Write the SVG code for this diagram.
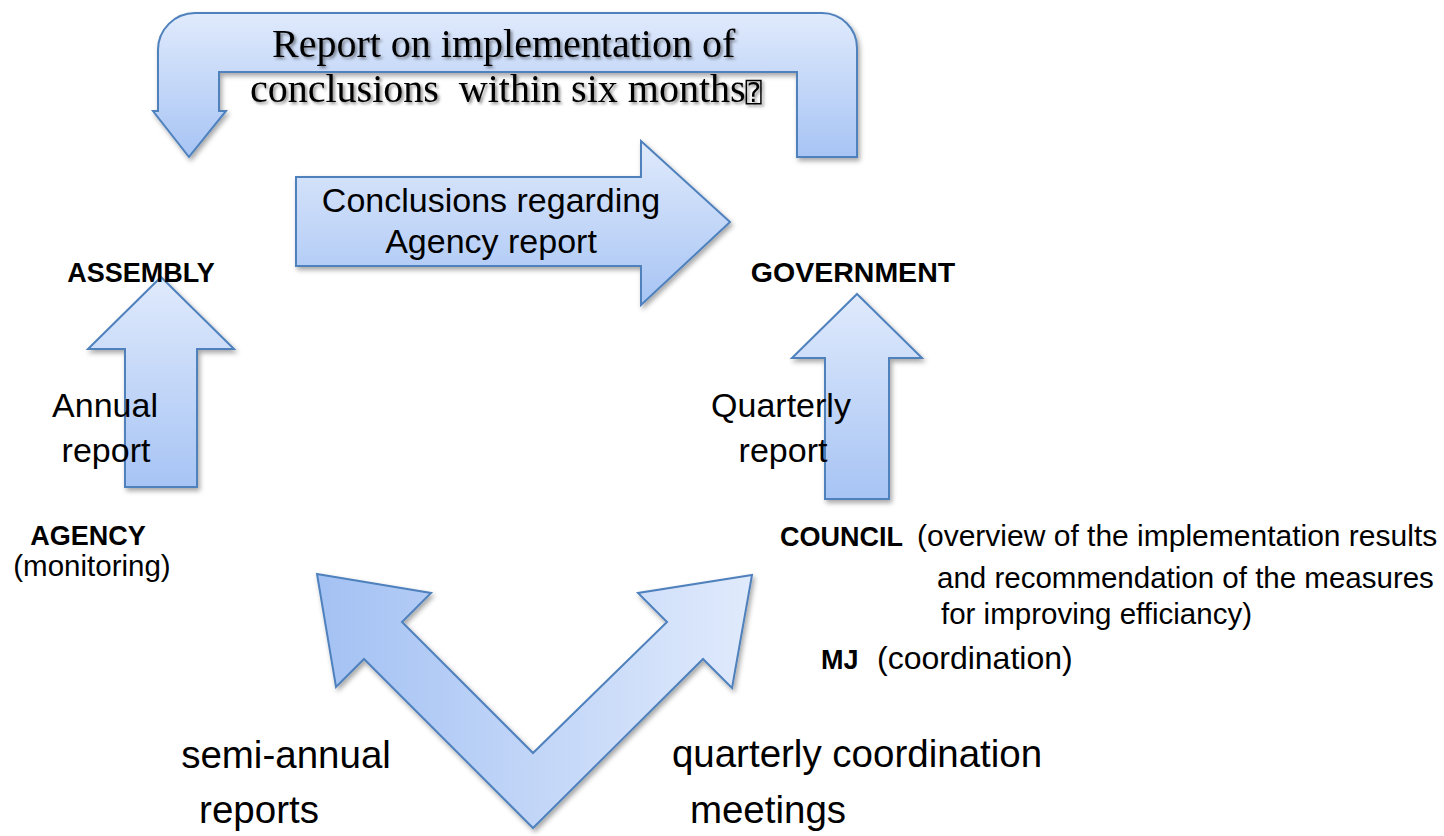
<svg xmlns="http://www.w3.org/2000/svg" width="1444" height="836" viewBox="0 0 1444 836">
<defs>
  <linearGradient id="gv" x1="0" y1="0" x2="0" y2="1">
    <stop offset="0" stop-color="#e0eafc"/>
    <stop offset="1" stop-color="#a7c4f4"/>
  </linearGradient>
  <linearGradient id="gd" x1="0" y1="0" x2="1" y2="0">
    <stop offset="0" stop-color="#a3c1f3"/>
    <stop offset="1" stop-color="#e0eafc"/>
  </linearGradient>
  <filter id="sh" x="-10%" y="-10%" width="125%" height="125%">
    <feDropShadow dx="2" dy="3" stdDeviation="2.5" flood-color="#000" flood-opacity="0.35"/>
  </filter>
  <filter id="tsh" x="-5%" y="-20%" width="110%" height="150%">
    <feDropShadow dx="2" dy="2" stdDeviation="1.5" flood-color="#000" flood-opacity="0.45"/>
  </filter>
</defs>
<style>
  .arrow{stroke:#4f81bd;stroke-width:2;stroke-linejoin:miter;filter:url(#sh)}
  .v{fill:url(#gv)}
  .s{font-family:"Liberation Sans",Arial,sans-serif;fill:#000}
  .b{font-weight:bold;font-size:27px}
  .r{font-size:29.5px}
  .lbl{font-size:34px}
  .big{font-size:38.5px}
  .serif{font-family:"Liberation Serif","Times New Roman",serif;font-size:40px;fill:#000;filter:url(#tsh)}
</style>
<rect width="1444" height="836" fill="#fff"/>

<g id="connectors">
  <g id="top-report-arrow">
    <path class="arrow v" d="M153,111 L158,111 L158,50 A37,37 0 0 1 195,13 L822,13 A35,35 0 0 1 857,48 L857,157 L797,157 L797,72 L219,72 L219,111 L226,111 L189,157 Z"/>
    <text class="serif" x="272" y="57">Report on implementation of</text>
    <text class="serif" x="250" y="102" xml:space="preserve">conclusions  within six months<tspan font-family="DejaVu Sans Mono,DejaVu Sans,monospace" font-size="27px">⍰</tspan></text>
  </g>
  <g id="conclusions-arrow">
    <path class="arrow v" d="M296,177 L641,177 L641,141 L730,222 L641,305 L641,266 L296,266 Z"/>
    <text class="s lbl" x="491" y="212" text-anchor="middle">Conclusions regarding</text>
    <text class="s lbl" x="491" y="253" text-anchor="middle">Agency report</text>
  </g>
  <g id="annual-arrow">
    <path class="arrow v" d="M161,277 L234,349 L197,349 L197,487 L125,487 L125,349 L88,349 Z"/>
    <text class="s lbl" x="105" y="417" text-anchor="middle">Annual</text>
    <text class="s lbl" x="106" y="462" text-anchor="middle">report</text>
  </g>
  <g id="quarterly-arrow">
    <path class="arrow v" d="M857,294 L922,358 L889,358 L889,499 L825,499 L825,358 L792,358 Z"/>
    <text class="s lbl" x="781" y="417" text-anchor="middle">Quarterly</text>
    <text class="s lbl" x="783" y="462" text-anchor="middle">report</text>
  </g>
  <g id="coordination-arrow">
    <path class="arrow" fill="url(#gd)" d="M317,574 L431,593 L402,622 L533,753 L667,622 L638,593 L752,575 L732,688 L703,659 L533,828 L364,659 L336,687 Z"/>
    <text class="s big" x="286" y="768" text-anchor="middle">semi-annual</text>
    <text class="s big" x="259" y="823" text-anchor="middle">reports</text>
    <text class="s big" x="857" y="767" text-anchor="middle">quarterly coordination</text>
    <text class="s big" x="768" y="823" text-anchor="middle">meetings</text>
  </g>
</g>

<g id="assembly">
  <text class="s b" x="141" y="282" text-anchor="middle">ASSEMBLY</text>
</g>
<g id="government">
  <text class="s b" x="853" y="282" text-anchor="middle" font-size="28.5px" style="font-size:28.5px">GOVERNMENT</text>
</g>
<g id="agency">
  <text class="s b" x="88" y="545" text-anchor="middle">AGENCY</text>
  <text class="s r" x="92" y="576" text-anchor="middle">(monitoring)</text>
</g>
<g id="council">
  <text class="s" x="780" y="546"><tspan class="b">COUNCIL</tspan><tspan class="r" x="917" style="font-size:30px">(overview of the implementation results</tspan></text>
  <text class="s r" x="937" y="588">and recommendation of the measures</text>
  <text class="s r" x="941" y="624">for improving efficiancy)</text>
</g>
<g id="mj">
  <text class="s" x="821" y="669"><tspan class="b">MJ</tspan><tspan class="r" x="877" style="font-size:32px">(coordination)</tspan></text>
</g>
</svg>
